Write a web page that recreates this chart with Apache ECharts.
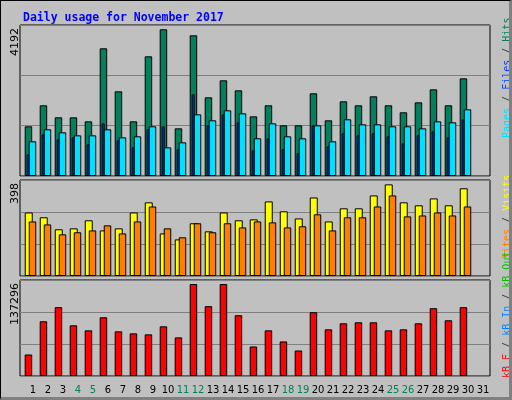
<!DOCTYPE html>
<html>
<head>
<meta charset="utf-8">
<script src="https://cdn.jsdelivr.net/npm/echarts@6/dist/echarts.min.js"></script>
<style>
  html, body { margin: 0; padding: 0; background: #fff; }
  #main { width: 508px; height: 396px; background: #c0c0c0; border: 1px solid #000;
          border-right: 3px solid #808080; border-bottom: 3px solid #808080; }
</style>
</head>
<body>
<div id="main"></div>
<script>
// daily usage, November 2017
const days = ['1','2','3','4','5','6','7','8','9','10','11','12','13','14','15','16','17','18','19','20','21','22','23','24','25','26','27','28','29','30','31'];
const weekendDays = ['4','5','11','12','18','19','25','26'];
const hits  = [1420,2020,1677,1677,1562,3649,2420,1562,3420,4192,1362,4020,2248,2734,2448,1705,2020,1448,1448,2363,1591,2134,2020,2277,2020,1820,2105,2477,2020,2791];
const files = [619,1191,1048,1105,905,1505,1019,819,1334,1420,762,2334,1448,1762,1534,734,1077,762,648,1448,848,1219,1162,1219,1134,934,1162,1277,1105,1620];
const pages = [991,1334,1248,1162,1162,1334,1105,1134,1420,819,962,1762,1591,1877,1791,1077,1505,1134,1077,1448,991,1620,1477,1477,1420,1420,1362,1562,1534,1905];
const visits = [276,255,203,207,242,198,207,276,320,185,159,229,194,276,242,246,324,281,250,341,237,294,294,350,398,320,307,337,307,381];
const sites  = [237,224,181,190,198,220,185,237,302,207,168,229,190,229,211,237,233,211,216,268,198,255,255,302,350,259,263,276,263,302];
const kbF = [32070,81680,102725,75666,68150,87690,66650,63640,62136,74160,57626,137296,104229,137296,90700,44097,68150,51613,38084,95209,69653,78673,80176,80176,68150,69653,78673,101222,83183,102725];
const topLabels = ['4192', '398', '137296'];

const chart = echarts.init(document.getElementById('main'));

const panels = [
  {top: 24, height: 151, max: 4315},
  {top: 179, height: 96, max: 417},
  {top: 279, height: 96, max: 143300}
];
const grids = panels.map(p => ({left: 19, width: 470, top: p.top, height: p.height,
  show: true, backgroundColor: '#c0c0c0', borderColor: '#000', borderWidth: 1}));
// hidden grid only for the day labels
grids.push({left: 24.5, width: 465, top: 279, height: 96});

const xAxes = [], yAxes = [], series = [];
panels.forEach((p, i) => {
  yAxes.push({gridIndex: i, type: 'value', min: 0, max: p.max, interval: p.max / 3,
    axisLabel: {show: false}, axisTick: {show: false}, axisLine: {show: false},
    splitLine: {lineStyle: {color: '#808080', width: 1}}});
});
yAxes.push({gridIndex: 3, type: 'value', show: false});

function addBars(gi, values, offset, width, color) {
  xAxes.push({gridIndex: gi, type: 'value', min: 0.1667, max: 31.5, show: false});
  series.push({
    type: 'bar', xAxisIndex: xAxes.length - 1, yAxisIndex: gi,
    barWidth: width, silent: true,
    itemStyle: {color: color, borderColor: '#000', borderWidth: 1},
    data: values.map((v, d) => [d + 1 + offset, v])
  });
}
addBars(0, hits, -0.27, 7.5, '#00805c');
addBars(0, files, -0.29, 3, '#0040ff');
addBars(0, pages, 0, 7.5, '#00e0ff');
addBars(1, visits, -0.25, 8, '#ffff00');
addBars(1, sites, 0, 7.5, '#ff8000');
addBars(2, kbF, -0.27, 7.5, '#ff0000');

xAxes.push({gridIndex: 3, type: 'category', data: days,
  axisLine: {show: false}, axisTick: {show: false},
  axisLabel: {margin: 9, fontFamily: 'DejaVu Sans', fontSize: 10, interval: 0,
    color: (v) => weekendDays.includes(v) ? '#00805c' : '#000'}});

const mono = 'DejaVu Sans Mono';
function sideLegend(y, rich, text) {
  return {type: 'text', x: 506, y: y, rotation: Math.PI / 2,
    style: {text: text, rich: rich, fill: '#404040', font: '10px ' + mono, align: 'left', verticalAlign: 'middle'}};
}
const graphics = [
  sideLegend(137, {a: {fill: '#00e0ff', font: '10px ' + mono}, b: {fill: '#0040ff', font: '10px ' + mono}, c: {fill: '#00805c', font: '10px ' + mono}},
    '{a|Pages} / {b|Files} / {c|Hits}'),
  sideLegend(258, {a: {fill: '#ff8000', font: '10px ' + mono}, b: {fill: '#ffff00', font: '10px ' + mono}},
    '{a|Sites} / {b|Visits}'),
  sideLegend(377, {a: {fill: '#ff0000', font: '10px ' + mono}, b: {fill: '#0080ff', font: '10px ' + mono}, c: {fill: '#00c000', font: '10px ' + mono}},
    '{a|kB F} / {b|kB In} / {c|kB Out}')
];
topLabels.forEach((t, i) => {
  graphics.push({type: 'text', x: 14, y: panels[i].top + 3, rotation: Math.PI / 2,
    style: {text: t, fill: '#000', font: '11px DejaVu Sans', align: 'right', verticalAlign: 'middle'}});
});

chart.setOption({
  animation: false,
  backgroundColor: '#c0c0c0',
  title: {text: 'Daily usage for November 2017', left: 17, top: 6,
    textStyle: {color: '#0000ff', fontFamily: mono, fontWeight: 'bold', fontSize: 11.5}},
  grid: grids,
  xAxis: xAxes,
  yAxis: yAxes,
  series: series,
  graphic: graphics
});
</script>
</body>
</html>
